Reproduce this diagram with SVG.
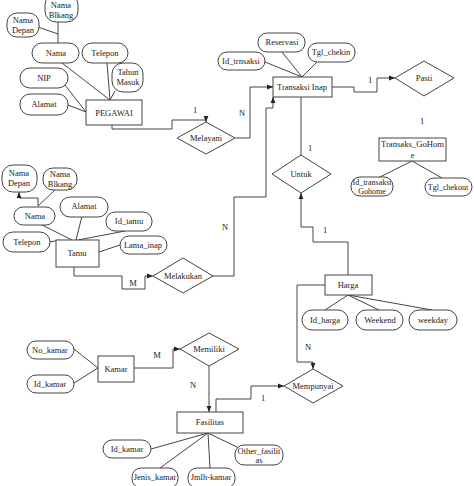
<svg xmlns="http://www.w3.org/2000/svg" width="474" height="486" viewBox="0 0 474 486">
<defs>
<marker id="arr" viewBox="0 0 10 10" refX="10" refY="5" markerWidth="6" markerHeight="6" orient="auto-start-reverse" markerUnits="userSpaceOnUse">
<path d="M0,1 L10,5 L0,9 z" fill="#222"/>
</marker>
<style>
text{font-family:"Liberation Serif","Times New Roman",serif;font-size:8.5px;fill:#222;text-anchor:middle;dominant-baseline:central}
text.s{font-size:8px}
.a{fill:#fff;stroke:#444;stroke-width:1}
.r{fill:#fff;stroke:#444;stroke-width:1}
.c{fill:none;stroke:#444;stroke-width:1}
.ar{fill:none;stroke:#444;stroke-width:1;marker-end:url(#arr)}
</style>
</defs>
<rect width="474" height="486" fill="#fff"/>

<g id="connectors">
<path class="c" d="M58,22 L58,43 M38,27 L58,34"/>
<path class="c" d="M62,63 L110,100 M107,63 L110,100 M115,91 L110,100 M65,85 L86,112 M68,105 L86,112"/>
<path class="ar" d="M112,125 L112,129 L172,129 L172,120 L206,120 L206,122"/>
<path class="ar" d="M235,138 L250,138 L250,87 L273,87"/>
<path class="c" d="M302,77 L265,62 M302,77 L282,52 M302,77 L318,61"/>
<path class="ar" d="M332,87 L354,87 L354,92 L377,92 L377,78 L395,78"/>
<path class="c" d="M412,161 L378,178 M412,161 L442,178"/>
<path class="c" d="M301,97 L301,155"/>
<path class="ar" d="M348,275 L348,242 L313,242 L313,227 L301,227 L301,193"/>
<path class="c" d="M348,295 L325,310 M348,295 L379,310 M348,295 L432,310"/>
<path class="ar" d="M325,285 L297,285 L297,362 L313,362 L313,369"/>
<path class="ar" d="M216,412 L216,399 L251,399 L251,386 L284,386"/>
<path class="c" d="M74,349 L98,368 M74,383 L98,368"/>
<path class="ar" d="M134,368 L173,368 L173,349 L180,349"/>
<path class="ar" d="M209,366 L209,412"/>
<path class="c" d="M208,433 L151,449 M208,433 L160,468 M208,433 L210,468 M208,433 L241,449"/>
<path class="ar" d="M38,206 L38,198 L19,198 L19,192"/>
<path class="c" d="M38,206 L55,190"/>
<path class="c" d="M72,240 L40,224 M76,240 L82,216 M78,240 L125,231 M99,252 L120,245 M50,242 L60,240"/>
<path class="ar" d="M74,267 L74,276 L122,276 L122,289 L145,289 L145,276 L153,276"/>
<path class="ar" d="M213,276 L234,276 L234,197 L266,197 L266,108 L273,108 L273,97"/>
<text x="195" y="110">1</text>
<text x="242" y="113">N</text>
<text x="370" y="80">1</text>
<text x="422" y="121">1</text>
<text x="310" y="148">1</text>
<text x="325" y="230">1</text>
<text x="308" y="347">N</text>
<text x="263" y="398">1</text>
<text x="157" y="355">M</text>
<text x="193" y="385">N</text>
<text x="133" y="283">M</text>
<text x="225" y="227">N</text>
</g>

<g id="nama-blkang-p"><rect class="a" x="45" y="-6" width="33" height="28" rx="11"/><text x="61" y="5">Nama</text><text x="61" y="15">Blkang</text></g>
<g id="nama-depan-p"><rect class="a" x="7" y="13" width="32" height="24" rx="10"/><text x="23" y="20">Nama</text><text x="23" y="30">Depan</text></g>
<g id="nama-p"><rect class="a" x="32" y="43" width="47" height="20" rx="10"/><text x="56" y="53">Nama</text></g>
<g id="telepon-p"><rect class="a" x="82" y="43" width="46" height="20" rx="10"/><text x="105" y="53">Telepon</text></g>
<g id="tahun-masuk"><rect class="a" x="112" y="63" width="31" height="29" rx="11"/><text x="128" y="72">Tahun</text><text x="128" y="82">Masuk</text></g>
<g id="nip"><rect class="a" x="20" y="68" width="48" height="20" rx="10"/><text x="44" y="78">NIP</text></g>
<g id="alamat-p"><rect class="a" x="20" y="94" width="48" height="21" rx="10"/><text x="44" y="104">Alamat</text></g>
<g id="pegawai"><rect class="r" x="86" y="100" width="56" height="25"/><text x="114" y="113">PEGAWAI</text></g>

<g id="melayani"><path class="r" d="M177,138 L206,122 L235,138 L206,154 Z"/><text x="206" y="138">Melayani</text></g>

<g id="transaksi-inap"><rect class="r" x="273" y="77" width="59" height="20"/><text x="302" y="87">Transaksi Inap</text></g>
<g id="id-trnsaksi"><rect class="a" x="218" y="52" width="47" height="18" rx="9"/><text x="241" y="61">Id_trnsaksi</text></g>
<g id="reservasi"><rect class="a" x="258" y="33" width="47" height="19" rx="9"/><text x="282" y="42">Reservasi</text></g>
<g id="tgl-chekin"><rect class="a" x="308" y="43" width="47" height="19" rx="9"/><text x="331" y="52">Tgl_chekin</text></g>
<g id="pasti"><path class="r" d="M395,78 L424,61 L454,78 L424,96 Z"/><text x="424" y="78">Pasti</text></g>

<g id="transaks-gohome"><rect class="r" x="379" y="138" width="67" height="23"/><text class="s" x="412.5" y="144" textLength="63" lengthAdjust="spacingAndGlyphs">Transaks_GoHom</text><text class="s" x="412.5" y="155">e</text></g>
<g id="id-transaksi-gohome"><rect class="a" x="351" y="177" width="42" height="19" rx="9"/><text class="s" x="372" y="182" textLength="39" lengthAdjust="spacingAndGlyphs">Id_transaksi</text><text class="s" x="372" y="191">Gohome</text></g>
<g id="tgl-chekout"><rect class="a" x="425" y="178" width="47" height="18" rx="9"/><text class="s" x="448" y="187">Tgl_chekout</text></g>

<g id="untuk"><path class="r" d="M272,174 L301,155 L331,174 L301,193 Z"/><text x="301" y="174">Untuk</text></g>

<g id="harga"><rect class="r" x="325" y="275" width="47" height="20"/><text x="348" y="285">Harga</text></g>
<g id="id-harga"><rect class="a" x="302" y="310" width="46" height="20" rx="10"/><text x="325" y="320">Id_harga</text></g>
<g id="weekend"><rect class="a" x="356" y="310" width="47" height="20" rx="10"/><text x="380" y="320">Weekend</text></g>
<g id="weekday"><rect class="a" x="409" y="310" width="48" height="20" rx="10"/><text x="433" y="320">weekday</text></g>

<g id="mempunyai"><path class="r" d="M284,386 L313,369 L343,386 L313,403 Z"/><text x="313" y="386">Mempunyai</text></g>

<g id="kamar"><rect class="r" x="98" y="356" width="36" height="26"/><text x="116" y="369">Kamar</text></g>
<g id="no-kamar"><rect class="a" x="27" y="341" width="47" height="18" rx="9"/><text x="50" y="350">No_kamar</text></g>
<g id="id-kamar-k"><rect class="a" x="27" y="375" width="47" height="18" rx="9"/><text x="50" y="384">Id_kamar</text></g>
<g id="memiliki"><path class="r" d="M180,349 L209,333 L239,349 L209,366 Z"/><text x="209" y="349">Memiliki</text></g>

<g id="fasilitas"><rect class="r" x="177" y="412" width="66" height="21"/><text x="210" y="422">Fasilitas</text></g>
<g id="id-kamar-f"><rect class="a" x="103" y="440" width="48" height="18" rx="9"/><text x="127" y="449">Id_kamar</text></g>
<g id="jenis-kamar"><rect class="a" x="132" y="468" width="46" height="20" rx="9"/><text x="155" y="477">Jenis_kamar</text></g>
<g id="jmlh-kamar"><rect class="a" x="188" y="468" width="47" height="20" rx="9"/><text x="211" y="477">Jmlh-kamar</text></g>
<g id="other-fasilitas"><rect class="a" x="235" y="445" width="48" height="20" rx="9"/><text x="259" y="451">Other_fasilit</text><text x="259" y="460">as</text></g>

<g id="tamu"><rect class="r" x="56" y="240" width="43" height="27"/><text x="77" y="253">Tamu</text></g>
<g id="nama-depan-t"><rect class="a" x="2" y="165" width="35" height="27" rx="11"/><text x="19" y="173">Nama</text><text x="19" y="183">Depan</text></g>
<g id="nama-blkang-t"><rect class="a" x="43" y="168" width="34" height="22" rx="10"/><text x="60" y="174">Nama</text><text x="60" y="184">Blkang</text></g>
<g id="nama-t"><rect class="a" x="14" y="207" width="41" height="18" rx="9"/><text x="35" y="216">Nama</text></g>
<g id="alamat-t"><rect class="a" x="60" y="197" width="48" height="20" rx="10"/><text x="84" y="206">Alamat</text></g>
<g id="id-tamu"><rect class="a" x="106" y="212" width="46" height="19" rx="9"/><text x="129" y="221">Id_tamu</text></g>
<g id="telepon-t"><rect class="a" x="3" y="232" width="47" height="20" rx="10"/><text x="27" y="242">Telepon</text></g>
<g id="lama-inap"><rect class="a" x="120" y="236" width="47" height="18" rx="9"/><text x="143" y="245">Lama_inap</text></g>
<g id="melakukan"><path class="r" d="M153,276 L183,258 L213,276 L183,293 Z"/><text x="183" y="276">Melakukan</text></g>
</svg>
